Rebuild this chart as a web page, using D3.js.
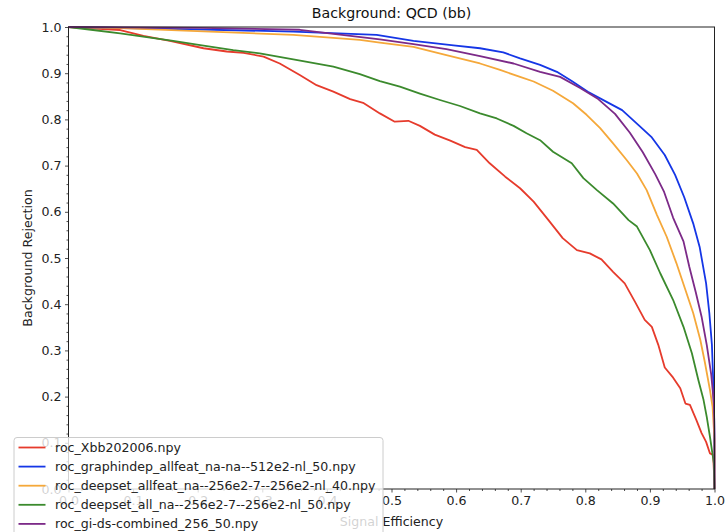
<!DOCTYPE html>
<html>
<head>
<meta charset="utf-8">
<script src="https://cdn.jsdelivr.net/npm/d3@7"></script>
<style>
  html, body { margin: 0; padding: 0; background: #fff; }
  svg { display: block; font-family: "DejaVu Sans", sans-serif; }
</style>
</head>
<body>
<svg id="chart" width="726" height="532"></svg>
<script>
// ROC curves: signal efficiency (x) vs background rejection (y)
const seriesNames = [
  "roc_Xbb202006.npy",
  "roc_graphindep_allfeat_na-na--512e2-nl_50.npy",
  "roc_deepset_allfeat_na--256e2-7--256e2-nl_40.npy",
  "roc_deepset_all_na--256e2-7--256e2-nl_50.npy",
  "roc_gi-ds-combined_256_50.npy"
];
const seriesColors = ["#e63b2c", "#1536e6", "#f5a83a", "#3b8a2d", "#7c2a88"];

const xbbEff = [0, 0.080, 0.116, 0.157, 0.209, 0.245, 0.271, 0.302, 0.327, 0.358, 0.384, 0.410, 0.436, 0.456, 0.482, 0.505, 0.526, 0.544, 0.567, 0.591, 0.614, 0.632, 0.652, 0.676, 0.699, 0.720, 0.743, 0.765, 0.787, 0.807, 0.825, 0.843, 0.861, 0.877, 0.892, 0.903, 0.913, 0.923, 0.936, 0.947, 0.955, 0.962, 0.972, 0.980, 0.987, 0.993, 0.998, 0.999, 1.0];
const xbbRej = [1.0, 0.9935, 0.981, 0.970, 0.954, 0.947, 0.944, 0.936, 0.921, 0.896, 0.874, 0.860, 0.844, 0.836, 0.813, 0.795, 0.797, 0.786, 0.767, 0.754, 0.740, 0.734, 0.705, 0.676, 0.651, 0.622, 0.582, 0.543, 0.517, 0.510, 0.497, 0.470, 0.445, 0.405, 0.366, 0.351, 0.312, 0.263, 0.241, 0.218, 0.185, 0.182, 0.149, 0.121, 0.102, 0.077, 0.074, 0.041, 0.0];

const graphEff = [0, 0.193, 0.348, 0.477, 0.534, 0.596, 0.637, 0.673, 0.699, 0.730, 0.756, 0.779, 0.804, 0.833, 0.857, 0.882, 0.903, 0.923, 0.939, 0.953, 0.967, 0.977, 0.987, 0.992, 0.996, 0.998, 0.9995, 1.0];
const graphRej = [1.0, 0.995, 0.990, 0.983, 0.970, 0.960, 0.954, 0.945, 0.932, 0.918, 0.903, 0.883, 0.860, 0.838, 0.820, 0.788, 0.761, 0.723, 0.680, 0.632, 0.575, 0.524, 0.445, 0.381, 0.312, 0.236, 0.149, 0.0];

const dsFeatEff = [0, 0.090, 0.219, 0.348, 0.451, 0.482, 0.534, 0.585, 0.637, 0.668, 0.699, 0.720, 0.750, 0.781, 0.802, 0.823, 0.843, 0.864, 0.880, 0.895, 0.911, 0.926, 0.941, 0.954, 0.967, 0.978, 0.985, 0.993, 0.997, 1.0, 1.0];
const dsFeatRej = [1.0, 0.997, 0.990, 0.983, 0.972, 0.966, 0.957, 0.939, 0.921, 0.907, 0.892, 0.882, 0.862, 0.835, 0.810, 0.781, 0.748, 0.712, 0.683, 0.647, 0.593, 0.546, 0.489, 0.435, 0.381, 0.323, 0.275, 0.214, 0.178, 0.106, 0.0];

const dsAllEff = [0, 0.038, 0.080, 0.121, 0.162, 0.204, 0.255, 0.296, 0.348, 0.410, 0.451, 0.482, 0.513, 0.544, 0.575, 0.606, 0.637, 0.663, 0.689, 0.709, 0.730, 0.750, 0.779, 0.797, 0.818, 0.843, 0.867, 0.880, 0.900, 0.916, 0.936, 0.952, 0.965, 0.975, 0.983, 0.988, 0.993, 0.996, 0.999, 1.0];
const dsAllRej = [1.0, 0.9935, 0.986, 0.978, 0.970, 0.961, 0.950, 0.943, 0.930, 0.914, 0.898, 0.883, 0.871, 0.856, 0.842, 0.829, 0.813, 0.802, 0.786, 0.770, 0.755, 0.730, 0.705, 0.673, 0.647, 0.618, 0.582, 0.568, 0.517, 0.467, 0.409, 0.351, 0.294, 0.236, 0.193, 0.156, 0.113, 0.084, 0.056, 0.0];

const combEff = [0, 0.204, 0.358, 0.482, 0.534, 0.585, 0.637, 0.689, 0.730, 0.761, 0.792, 0.820, 0.846, 0.869, 0.889, 0.908, 0.922, 0.936, 0.952, 0.961, 0.971, 0.980, 0.988, 0.995, 0.999, 1.0, 1.0];
const combRej = [1.0, 0.998, 0.994, 0.973, 0.963, 0.952, 0.937, 0.921, 0.903, 0.892, 0.868, 0.844, 0.812, 0.771, 0.729, 0.682, 0.643, 0.587, 0.536, 0.481, 0.426, 0.373, 0.312, 0.247, 0.186, 0.121, 0.0];

const xTicks = [0.0, 0.1, 0.2, 0.3, 0.4, 0.5, 0.6, 0.7, 0.8, 0.9, 1.0];
const yTicks = [0.0, 0.1, 0.2, 0.3, 0.4, 0.5, 0.6, 0.7, 0.8, 0.9, 1.0];

const curves = [
  [xbbEff, xbbRej],
  [graphEff, graphRej],
  [dsFeatEff, dsFeatRej],
  [dsAllEff, dsAllRej],
  [combEff, combRej]
].map(([xs, ys], i) => ({
  name: seriesNames[i],
  color: seriesColors[i],
  points: xs.map((x, j) => [x, ys[j]])
}));

const svg = d3.select("#chart");
const plot = { left: 68.5, right: 714.5, top: 27, bottom: 489 };
const FS = 12.6;

const x = d3.scaleLinear().domain([0, 1]).range([plot.left, plot.right]);
const y = d3.scaleLinear().domain([0, 1]).range([plot.bottom, plot.top]);

// minor ticks every 0.02
const minor = d3.range(0, 1.0001, 0.02).filter(v => Math.abs(v * 10 - Math.round(v * 10)) > 1e-6);

const xAxis = svg.append("g").attr("transform", `translate(0,${plot.bottom})`);
xAxis.call(d3.axisBottom(x).tickValues(minor).tickSize(2).tickFormat(""));
xAxis.append("g").call(d3.axisBottom(x).tickValues(xTicks).tickSize(3.5).tickPadding(3.5).tickFormat(d3.format(".1f")));

const yAxis = svg.append("g").attr("transform", `translate(${plot.left},0)`);
yAxis.call(d3.axisLeft(y).tickValues(minor).tickSize(2).tickFormat(""));
yAxis.append("g").call(d3.axisLeft(y).tickValues(yTicks).tickSize(3.5).tickPadding(3.5).tickFormat(d3.format(".1f")));

svg.selectAll(".domain").remove();
svg.selectAll(".tick line").attr("stroke", "#222").attr("stroke-width", 0.8);
svg.selectAll(".tick text").attr("fill", "#222").style("font-size", FS + "px").style("font-family", "DejaVu Sans");

// curves
const line = d3.line().x(d => x(d[0])).y(d => y(d[1]));
svg.append("g").selectAll("path").data(curves).join("path")
  .attr("d", d => line(d.points))
  .attr("fill", "none")
  .attr("stroke", d => d.color)
  .attr("stroke-width", 1.8)
  .attr("stroke-linejoin", "round");

// frame
svg.append("rect")
  .attr("x", plot.left).attr("y", plot.top)
  .attr("width", plot.right - plot.left).attr("height", plot.bottom - plot.top)
  .attr("fill", "none").attr("stroke", "#222").attr("stroke-width", 1);

// title and axis labels
svg.append("text").attr("x", (plot.left + plot.right) / 2).attr("y", 18)
  .attr("text-anchor", "middle").style("font-size", "14.2px").attr("fill", "#111")
  .text("Background: QCD (bb)");
svg.append("text").attr("x", (plot.left + plot.right) / 2).attr("y", 525.5)
  .attr("text-anchor", "middle").style("font-size", FS + "px").attr("fill", "#222")
  .text("Signal Efficiency");
svg.append("text")
  .attr("transform", `translate(32,${(plot.top + plot.bottom) / 2}) rotate(-90)`)
  .attr("text-anchor", "middle").style("font-size", FS + "px").attr("fill", "#222")
  .text("Background Rejection");

// legend (semi-transparent box, lower left)
const legend = svg.append("g").attr("transform", "translate(14,437.5)");
legend.append("rect")
  .attr("width", 369).attr("height", 110).attr("rx", 3)
  .attr("fill", "#fff").attr("fill-opacity", 0.8)
  .attr("stroke", "#cccccc").attr("stroke-width", 1);
const rows = legend.selectAll("g.row").data(curves).join("g")
  .attr("class", "row")
  .attr("transform", (d, i) => `translate(0,${10 + i * 19.1})`);
rows.append("line").attr("x1", 4.5).attr("x2", 31.5)
  .attr("stroke", d => d.color).attr("stroke-width", 1.8);
rows.append("text").attr("x", 41).attr("y", 4.5)
  .style("font-size", FS + "px").attr("fill", "#222")
  .text(d => d.name);
</script>
</body>
</html>
